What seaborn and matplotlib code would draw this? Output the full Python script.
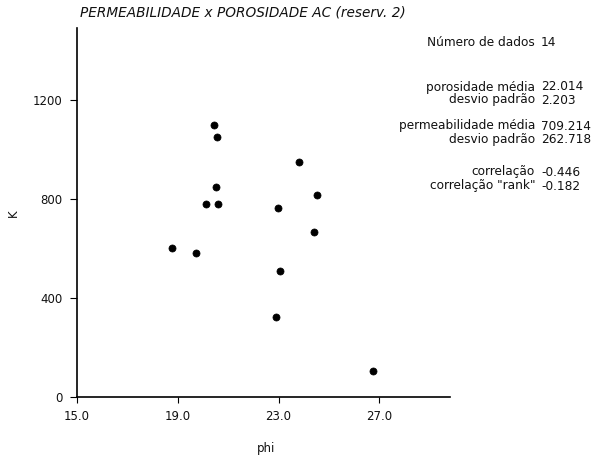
import matplotlib
matplotlib.use("Agg")
import matplotlib.pyplot as plt
from matplotlib.ticker import MultipleLocator, FormatStrFormatter
import seaborn as sns
import pandas as pd

# Porosity (phi, %) and permeability (K) samples, reservoir 2
phi = [20.45, 20.57, 20.53, 20.11, 20.61, 18.75, 19.72,
       23.82, 24.51, 22.99, 24.41, 23.07, 22.89, 26.76]
perm = [1099, 1050, 848, 780, 780, 601, 581,
        949, 814, 764, 665, 507, 325, 104]

x_ticks = [15, 19, 23, 27]
y_ticks = [0, 400, 800, 1200]

title = "PERMEABILIDADE x POROSIDADE AC (reserv. 2)"
stat_labels = ["Número de dados", "porosidade média", "desvio padrão",
               "permeabilidade média", "desvio padrão",
               "correlação", "correlação \"rank\""]
stat_values = ["14", "22.014", "2.203", "709.214", "262.718", "-0.446", "-0.182"]

df = pd.DataFrame({"phi": phi, "K": perm})

sns.set_theme(style="white")
plt.rcParams["font.family"] = ["DejaVu Sans"]

fig = plt.figure(figsize=(5.93, 4.62), dpi=100)
ax = fig.add_axes([77 / 593, 1 - 397 / 462, 373 / 593, 369 / 462])

sns.scatterplot(data=df, x="phi", y="K", ax=ax, color="black",
                s=26, edgecolor="black", linewidth=0.5)

ax.set_xlim(15, 29.8)
ax.set_ylim(0, 1490)
ax.set_xticks(x_ticks)
ax.set_yticks(y_ticks)
ax.xaxis.set_major_formatter(FormatStrFormatter("%.1f"))
ax.xaxis.set_minor_locator(MultipleLocator(1))
ax.yaxis.set_minor_locator(MultipleLocator(100))

for side in ("top", "right"):
    ax.spines[side].set_visible(False)
for side in ("left", "bottom"):
    ax.spines[side].set_color("black")
    ax.spines[side].set_linewidth(1.2)

ax.tick_params(axis="x", which="major", direction="out", length=4, width=0.8,
               color="black", labelsize=8.5, pad=5, labelcolor="#111111")
ax.tick_params(axis="x", which="minor", direction="out", length=2.5, width=0.7,
               color="black")
ax.tick_params(axis="y", which="major", direction="out", length=5, width=0.8,
               color="black", labelsize=8.5, pad=5.5, labelcolor="#111111")
ax.tick_params(axis="y", which="minor", direction="in", length=3, width=0.7,
               color="black")
ax.tick_params(left=True, bottom=True)

ax.set_xlabel("phi", fontsize=8.5, color="#111111")
ax.set_ylabel("K", fontsize=8.5, color="#111111")
ax.xaxis.set_label_coords(0.507, -0.123)
ax.yaxis.set_label_coords(-0.153, 0.499)

fig.text(80 / 593, 1 - 12 / 462, title, ha="left", va="center",
         fontsize=9.8, style="italic", color="#111111")

stat_y = [42, 87, 100, 126, 139, 172, 186]
for lab, val, yp in zip(stat_labels, stat_values, stat_y):
    fig.text(535 / 593, 1 - yp / 462, lab, ha="right", va="center",
             fontsize=8.7, color="#111111")
    fig.text(541 / 593, 1 - yp / 462, val, ha="left", va="center",
             fontsize=8.7, color="#111111")

fig.savefig("out.png", dpi=100)
